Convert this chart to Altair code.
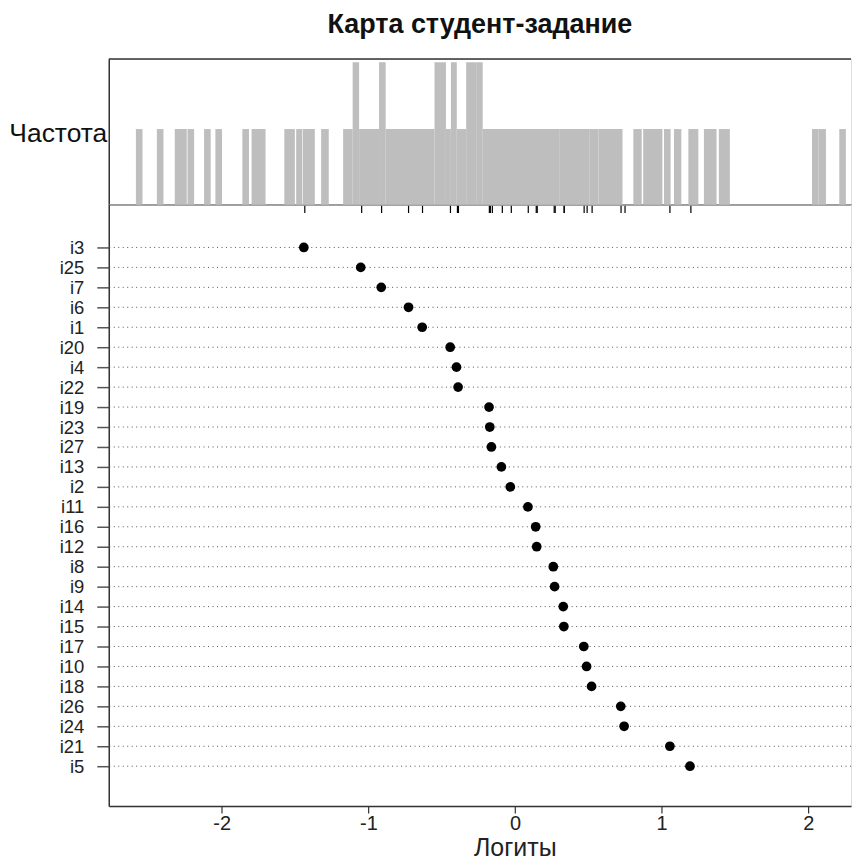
import json
import altair as alt
import pandas as pd

# Items (top to bottom) and their locations in logits
items = ["i3", "i25", "i7", "i6", "i1", "i20", "i4", "i22", "i19", "i23", "i27",
         "i13", "i2", "i11", "i16", "i12", "i8", "i9", "i14", "i15", "i17", "i10",
         "i18", "i26", "i24", "i21", "i5"]
item_logits = [-1.440, -1.052, -0.912, -0.726, -0.633, -0.442, -0.399, -0.388,
               -0.177, -0.172, -0.161, -0.093, -0.032, 0.088, 0.141, 0.148,
               0.261, 0.270, 0.329, 0.333, 0.469, 0.488, 0.522, 0.721, 0.744,
               1.056, 1.193]

# Person histogram bins (logits) and frequencies
bin_left = [-2.585, -2.442, -2.320, -2.233, -2.120, -2.043, -1.859, -1.796,
            -1.573, -1.492, -1.447, -1.322, -1.172, -1.107, -1.063, -0.927,
            -0.882, -0.549, -0.471, -0.437, -0.397, -0.333, -0.265, -0.220,
            0.301, 0.510, 0.569, 0.807, 0.874, 1.016, 1.084, 1.182, 1.288,
            1.390, 2.025, 2.070, 2.211]
bin_right = [-2.540, -2.397, -2.238, -2.188, -2.075, -1.998, -1.814, -1.701,
             -1.501, -1.451, -1.365, -1.270, -1.107, -1.063, -0.927, -0.882,
             -0.549, -0.471, -0.437, -0.397, -0.333, -0.265, -0.220, 0.301,
             0.510, 0.569, 0.733, 0.864, 1.005, 1.061, 1.134, 1.250, 1.374,
             1.465, 2.070, 2.120, 2.256]
bin_count = [1, 1, 1, 1, 1, 1, 1, 1,
             1, 1, 1, 1, 1, 2, 1, 2,
             1, 2, 1, 2, 1, 2, 2, 1,
             1, 1, 1, 1, 1, 1, 1, 1, 1,
             1, 1, 1, 1]

x_ticks = [-2, -1, 0, 1, 2]

FONT = "Liberation Sans"
FRAME = "#333333"
W = 744
Y_MIN = -0.13  # histogram panel's lower limit (bars are drawn from it)

xscale = alt.Scale(domain=[-2.77, 2.291], nice=False, zero=False)

hist_df = pd.DataFrame({"left": bin_left, "right": bin_right, "count": bin_count})
items_df = pd.DataFrame({"item": items, "logit": item_logits,
                         "idx": list(range(len(items)))})
frame_df = pd.DataFrame({"k": [0]})

bars = alt.Chart(hist_df).mark_rect(color="#BEBEBE").encode(
    x=alt.X("left:Q", scale=xscale,
            axis=alt.Axis(values=item_logits, labels=False, tickSize=8,
                          tickColor="black", tickWidth=1.2, domainColor=FRAME,
                          domainWidth=1.5, grid=False, title=None)),
    x2="right:Q",
    y=alt.Y("count:Q", scale=alt.Scale(domain=[Y_MIN, 2.05], nice=False, zero=False),
            axis=alt.Axis(title="Частота", titleAngle=0, titleAlign="right",
                          titleBaseline="middle", titleX=-2, titleY=75,
                          labels=False, ticks=False, grid=False,
                          domainColor=FRAME, domainWidth=1.5,
                          titleFontSize=26.5, titleFontWeight="normal",
                          titleColor="#111111", titleFont=FONT)),
    y2=alt.datum(Y_MIN),
)
top_border = alt.Chart(frame_df).mark_rule(color=FRAME, strokeWidth=1.5).encode(
    y=alt.value(0))
top = alt.layer(bars, top_border).properties(width=W, height=146)

label_expr = json.dumps(items) + "[datum.value]"
yenc = alt.Y("idx:Q",
             scale=alt.Scale(domain=[-2.15, len(items) + 1.0], reverse=True,
                             nice=False, zero=False),
             axis=alt.Axis(title=None, values=list(range(len(items))),
                           labelExpr=label_expr, labelOverlap=False,
                           tickSize=12, labelPadding=13,
                           labelFontSize=18.5, labelFont=FONT, labelColor="#222222",
                           tickColor="#555555", tickWidth=1.5, grid=False,
                           domainColor=FRAME, domainWidth=1.5))
rules = alt.Chart(items_df).mark_rule(strokeDash=[1, 3.5], color="#555555",
                                      strokeWidth=1).encode(y=yenc)
dots = alt.Chart(items_df).mark_circle(size=95, color="black", opacity=1).encode(
    x=alt.X("logit:Q", scale=xscale,
            axis=alt.Axis(values=x_ticks, labelExpr="'' + datum.value",
                          tickSize=7, tickColor=FRAME, tickWidth=1.2,
                          labelPadding=0, labelFontSize=20, labelFont=FONT,
                          labelColor="#222222", domainColor=FRAME,
                          domainWidth=1.5, grid=False, title="Логиты",
                          titleX=407, titleFontSize=25, titleFontWeight="normal",
                          titleFont=FONT, titleColor="#222222", titlePadding=2)),
    y=yenc,
)
bottom = alt.layer(rules, dots).properties(width=W, height=603)

chart = alt.vconcat(top, bottom, spacing=0, bounds="flush").properties(
    title=alt.TitleParams("Карта студент-задание", fontSize=27, fontWeight="bold",
                          font=FONT, anchor="middle", frame="group", offset=19,
                          color="#111111"),
    padding={"left": 0, "top": 1, "right": 0, "bottom": 0},
).configure_view(stroke=None).configure(font=FONT)

chart.save("out.html", embed_options={"renderer": "svg", "actions": False})
